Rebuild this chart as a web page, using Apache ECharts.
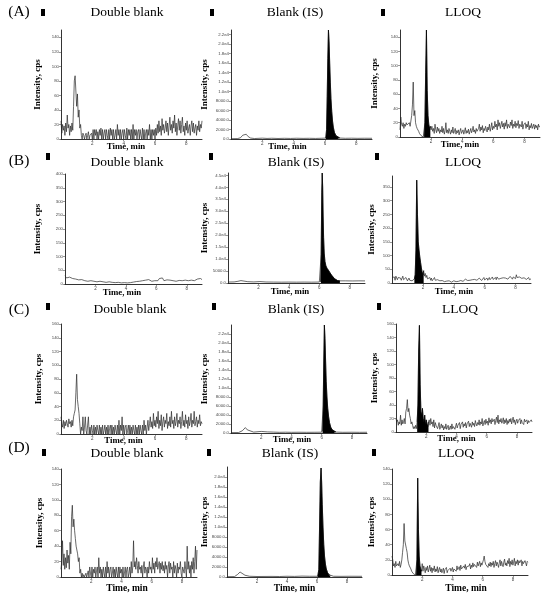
<!DOCTYPE html>
<html><head><meta charset="utf-8">
<script src="https://cdn.jsdelivr.net/npm/echarts@6/dist/echarts.min.js"></script>
<style>html,body{margin:0;padding:0;background:#fff}#c{width:550px;height:599px}</style>
</head><body><div id="c"></div>
<script>
const SERIF = "'Liberation Serif','DejaVu Serif',serif";
const rowLabels = ['(A)', '(B)', '(C)', '(D)'];
const panelTitles = ['Double blank', 'Blank (IS)', 'LLOQ'];
const xAxisName = 'Time, min';
const yAxisName = 'Intensity, cps';
const timeStep = 0.05;   // sampling step (min) of noise traces
const timeStepB = 0.1;   // sampling step (min) of double blank B

// ---------- Double blank traces (cps), one value per sample ----------
const blankA = [25,8,20,12,18,5,22,10,33,15,20,5,18,10,
 22,12,45,80,87,85,45,62,30,40,15,20,
 5,0,8,5,0,5,8,0,5,10,0,5,3,8,0,
 13,0,13,5,13,0,10,0,13,5, 15,0,13,0,8,13,0,13,5,0, 13,0,15,5,13,0,13,0,5,13, 0,20,5,13,0,13,0,8,13,0,
 13,5,0,15,0,13,5,13,0,13, 0,20,0,13,5,13,0,10,13,0, 13,5,0,15,0,13,0,8,13,0, 13,5,20,0,13,0,13,5,13,0,
 15,5,20,8,25,10,18,5,28,12, 20,8,15,25,10,22,5,18,30,12, 20,8,25,15,33,10,22,5,18,28,
 12,25,8,20,30,10,18,5,22,12, 25,8,15,20,5,18,25,10,22,8, 15,20,5,18,12,25,10,20,15,25];
const blankB = [30,22,28,25,32,20,26,18,24,15, 22,16,20,12,18,10,15,12,16,10, 14,8,12,10,14,8,12,6,10,8,
 10,6,9,5,8,6,10,4,8,5, 6,4,8,5,3,7,5,9,6,10, 8,12,10,14,9,16,12,10,15,12, 18,12,20,14,22,12,18,15,20,14,
 16,12,18,10,15,13,20,12,16,14, 18,12,16,14,20,12,15,18,13,20, 16];
const blankC = [25,15,10,20,8,18,12,20,15,10,22,15,18,10,20,12,
 25,30,35,60,87,50,40,30,15,
 0,10,5,25,0,10,25,5,0,13,25,0,10,0,13,5,
 0,13,0,10,0,13,5,0,13,0, 10,0,13,0,5,13,0,10,0,13, 0,8,13,0,13,0,10,0,13,5, 0,13,0,20,0,13,5,25,0,13,
 0,10,13,0,5,13,0,13,0,10, 0,13,5,0,13,0,10,0,13,0, 13,5,0,13,0,20,5,13,0,10,
 20,5,15,25,10,18,8,30,12,20, 10,25,15,33,8,20,12,28,5,18, 25,10,20,15,30,8,18,12,25,10,
 33,15,20,8,25,12,18,30,10,20, 15,25,8,18,33,12,20,10,28,15, 20,8,25,12,18,30,10,20,15,33, 12,18,25,10,20,15,28,12,18,15];
const blankD = [10,20,47,15,30,10,25,12,35,18,28,10,45,30,
 78,93,65,75,60,50,40,35,30,20,25,5,10,
 0,5,0,3,0,0,5,0,0,8,
 0,13,5,0,13,0,10,5,13,0, 8,13,0,25,5,13,0,10,0,13, 5,0,13,0,20,5,13,0,10,13, 0,5,13,0,10,0,13,5,0,13,
 0,13,5,10,0,13,0,5,13,0, 10,13,0,5,13,0,20,5,13,47, 13,20,10,25,15,5,20,10,13,5, 15,0,13,20,5,13,10,0,13,5,
 20,10,13,5,25,10,18,5,20,13, 25,10,15,20,5,18,10,20,8,15, 5,20,10,15,0,13,20,5,18,10, 13,0,20,5,15,10,0,18,5,13,
 10,20,5,0,13,15,5,20,10,0, 40,10,20,5,15,0,20,10,25,5, 20,40,10,35];

// ---------- Blank (IS) traces: [time (min), cps] ----------
const isA = [[0,60],[0.4,80],[0.6,250],[0.75,800],[0.87,1150],[0.97,1000],[1.1,500],[1.25,200],[1.5,100],[2,180],[2.3,120],[2.6,160],[3,110],[3.4,150],[3.8,120],[4.2,160],[4.6,130],[5,150],[5.4,120],[5.8,160],[6.05,200],
 [6.1,2000],[6.14,9000],[6.18,17000],[6.22,23000],[6.26,20500],[6.3,16000],[6.34,12000],[6.38,8500],[6.43,5800],[6.48,3800],[6.53,2500],[6.6,1400],[6.7,700],[6.8,350],[6.95,200],[7.3,150],[7.7,170],[8.1,140],[8.5,160],[9,150]];
const isB = [[0,400],[0.4,450],[0.65,700],[0.85,1000],[1.05,800],[1.3,550],[1.7,450],[2.1,600],[2.5,420],[3,380],[3.5,350],[4,380],[4.5,350],[5,380],[5.5,350],[6,400],[6.08,500],
 [6.12,12000],[6.16,38000],[6.19,46000],[6.22,40000],[6.25,28000],[6.28,19000],[6.32,12500],[6.37,9000],[6.43,7200],[6.5,6200],[6.6,5300],[6.7,4300],[6.8,3300],[6.9,2500],[7.0,1800],[7.1,1300],[7.2,1000],[7.35,900],[7.7,900],[8.2,850],[8.6,900],[9,880]];
const isC = [[0,80],[0.5,100],[0.75,500],[0.95,1200],[1.08,700],[1.2,300],[1.5,200],[2,350],[2.4,250],[2.8,200],[3.2,150],[3.6,180],[4,150],[4.5,170],[5,150],[5.5,160],[6.0,180],[6.06,400],
 [6.1,6000],[6.14,16000],[6.18,24000],[6.22,21000],[6.26,16000],[6.3,11500],[6.35,8000],[6.4,5500],[6.46,3600],[6.52,2300],[6.6,1300],[6.7,700],[6.8,350],[6.95,200],[7.4,150],[8,170],[8.5,150],[9,160]];
const isD = [[0,60],[0.5,80],[0.7,500],[0.87,1000],[1.0,700],[1.2,350],[1.5,150],[2,100],[3,120],[3.5,100],[4,150],[4.5,120],[5,180],[5.5,150],[6.05,150],
 [6.12,1500],[6.17,10000],[6.22,19000],[6.27,21800],[6.31,19000],[6.35,14500],[6.4,10000],[6.45,6500],[6.5,4200],[6.56,2600],[6.62,1600],[6.7,900],[6.8,450],[6.9,250],[7.1,150],[7.6,130],[8.2,150],[9,140]];

// ---------- LLOQ traces (cps), one value per sample ----------
const lloqA = [10,28,18,15,20,12,18,15,20,17,15,
 18,20,15,15,30,45,77,30,37,20,15,
 12,10,8,5,3,2,1,0,0,2,
 20,90,150,65,30,18,12,15,10,
 15,8,12,5,18,10,6,14,8,12, 5,10,7,15,6,12,4,9,20,6, 10,5,12,8,4,10,6,14,5,8,
 12,4,9,6,10,3,8,12,5,7, 10,4,8,13,5,9,6,11,4,8, 12,6,9,15,7,10,5,12,8,6,
 12,18,8,14,10,16,6,12,9,15, 11,7,14,10,18,8,13,20,10,15, 12,22,14,18,10,24,15,20,12,17, 22,14,19,11,20,15,24,12,18,16,
 13,21,16,24,12,18,15,22,13,19, 16,23,12,18,20,14,22,11,17,15, 20,12,18,14,22,10,16,13,19,12, 15,18,11,17,13,16,10,18,14,15];
const lloqB = [20,25,15,22,10,25,18,12,20,15, 22,18,10,15,25,12,18,10,20,15, 8,12,18,10,15,12,8,15,10,
 15,30,120,375,250,150,120,95,75,55,40,30,45,
 25,35,20,28,15,22,12,20,10,18, 8,15,12,20,10,14,8,12,6,10, 8,12,5,9,7,11,5,8,4,7, 3,6,8,4,7,3,6,5,8,
 6,10,5,12,8,6,10,4,9,7, 12,6,10,8,14,7,11,9,13,8, 10,14,8,12,16,9,13,11,15,10, 14,10,18,12,15,9,16,12,20,11,
 15,13,18,10,16,20,12,17,14,22, 13,18,15,20,12,22,16,14,19,12, 17,22,14,19,25,13,18,16,21,14, 20,15,24,17,28,14,22,18,25,16,
 30,20,25,18,22,15,20,17,24,14, 19,15,22,13,18,16,20,12,17,15];
const lloqC = [20,15,18,10,15,12,25,10,18,12,15,20,12,30,
 35,48,30,35,25,20,12,15,
 10,5,8,5,10,5,
 15,40,120,158,70,30,25,35,20,15,25,10,18,12,8,15,
 18,10,20,12,15,8,18,6,14,10, 12,5,9,14,4,8,12,6,10,3, 8,5,12,4,7,10,3,6,9,4, 12,5,8,10,4,9,13,6,10,8, 14,5,11,9,15,7,12,
 9,14,6,12,10,16,8,13,11,7, 15,10,13,8,17,12,9,14,11,18, 10,15,12,20,9,14,17,11,19,13, 16,10,21,14,18,12,20,15,13,19,
 11,17,22,14,25,12,18,15,20,13, 16,21,12,18,14,20,11,17,13,19, 15,20,12,17,22,14,18,11,16,19, 13,17,15,20,12,18,14,16,11,19,
 15,13,18,12,17,14,16,12,18,15];
const lloqD = [25,20,12,15,10,18,12,10,15,12,18,10,14,20,
 30,40,68,45,47,35,30,20,15,12,10,
 8,5,3,2,1,0,0,0,
 20,128,60,25,12,8,5,
 15,5,12,8,3,10,6,12,4,8, 13,5,10,3,9,6,12,4,8,5, 11,3,7,10,4,8,3,6,9,2, 7,5,10,3,6,8,4,9,5,7, 10,
 4,8,6,10,5,12,7,9,11,6, 13,8,10,6,12,9,14,7,11,13, 9,12,15,8,13,10,16,11,14,12, 15,10,17,12,14,18,11,16,13,15,
 20,25,18,14,12,16,10,15,12,17, 11,16,13,18,10,15,19,12,17,14, 10,16,20,12,18,14,11,17,21,13, 16,12,19,15,22,11,18,14,20,13,
 17,22,12,18,15,20,13,19,16,14, 20,12,18,15,13,19,16,12,18,17];

// integrated (black-filled) peak windows, minutes
const fillIS = [[6.05, 7.0], [6.05, 7.4], [6.05, 7.0], [6.05, 7.0]];
const fillLLOQ = [[1.55, 1.95], [1.45, 2.05], [1.4, 2.15], [1.6, 1.95]];

// axis ranges
const yMaxBlank = [150, 400, 160, 140];
const yStepBlank = [20, 50, 20, 20];
const yMaxIS = [23000, 46000, 24000, 22000];
const yStepIS = [2000, 5000, 2000, 2000];
const yMaxLLOQ = [150, 390, 160, 140];
const yStepLLOQ = [20, 50, 20, 20];

// ---------- layout (pixels) ----------
const gridPos = [
  [[61,30,141,109],[231,30,141,109],[400,30,140,107]],
  [[65,174,137,110],[228,173,137,110],[392,176,139,107]],
  [[61,324,141,110],[231,325,136,108],[396,324,136,108]],
  [[61,469,136,108],[227,467,135,110],[392,469,136,106]]
];
const yNameGap = [[18.5,21.5,20.5],[22.5,18.5,15.5],[17.5,21.5,16.5],[16.5,17.5,15.5]];
const xNameShift = [[5.5,14,10],[11.5,6.5,7.5],[8,7,7.5],[2,0,-6]];
const xNameGap = [[3.5,3.5,3.5],[4,4,4],[2.5,2.5,2.5],[7,7,9]];
const rowTitleY = [12, 162, 309, 453];
const rowLabelY = [12, 161, 310, 448];
const titleX = [[127,295,463],[127,296,463],[130,296,460],[127,290,456]];
const markerX = [[41,210,381],[46,209,375],[46,212,377],[42,207,372]];
const markerY = [9, 153, 303, 449];

const blanks = [blankA, blankB, blankC, blankD];
const blankSteps = [timeStep, timeStepB, timeStep, timeStep];
const iss = [isA, isB, isC, isD];
const lloqs = [lloqA, lloqB, lloqC, lloqD];

const toPairs = (vals, step) => vals.map((v, i) => [Math.round(i * step * 1000) / 1000, v]);
const within = (pairs, w) => pairs.filter(p => p[0] >= w[0] - 1e-9 && p[0] <= w[1] + 1e-9);
const isFmt = v => v >= 10000 ? (v / 10000).toFixed(1) + 'e4' : v.toFixed(1);

const grids = [], xAxes = [], yAxes = [], series = [], graphics = [];

for (let r = 0; r < 4; r++) {
  const traces = [toPairs(blanks[r], blankSteps[r]), iss[r], toPairs(lloqs[r], timeStep)];
  const yMax = [yMaxBlank[r], yMaxIS[r], yMaxLLOQ[r]];
  const yStep = [yStepBlank[r], yStepIS[r], yStepLLOQ[r]];
  const fills = [null, fillIS[r], fillLLOQ[r]];
  for (let c = 0; c < 3; c++) {
    const g = r * 3 + c;
    const p = gridPos[r][c];
    grids.push({ left: p[0], top: p[1], width: p[2], height: p[3], containLabel: false });
    const shift = xNameShift[r][c];
    xAxes.push({
      gridIndex: g, type: 'value', min: 0, max: 9, interval: 2,
      axisLine: { show: true, onZero: false, lineStyle: { color: '#000', width: 0.8 } },
      axisTick: { show: true, length: 2, lineStyle: { color: '#333', width: 0.5 } },
      axisLabel: { fontSize: 4.5, color: '#444', margin: 2, showMinLabel: false, showMaxLabel: false, fontFamily: 'Arial, Liberation Sans, sans-serif' },
      splitLine: { show: false },
      name: xAxisName, nameLocation: 'middle', nameGap: xNameGap[r][c], nameMoveOverlap: false,
      nameTextStyle: { fontFamily: SERIF, fontWeight: 'bold', fontSize: r === 3 ? 9.5 : 8.8, color: '#000',
        padding: shift >= 0 ? [0, 2 * shift, 0, 0] : [0, 0, 0, -2 * shift] }
    });
    const showMax = (c === 0 && r !== 0) || (c === 2 && (r === 2 || r === 3));
    yAxes.push({
      gridIndex: g, type: 'value', min: 0, max: yMax[c], interval: yStep[c],
      axisLine: { show: true, lineStyle: { color: '#000', width: 0.8 } },
      axisTick: { show: true, length: 2, lineStyle: { color: '#333', width: 0.5 } },
      axisLabel: { fontSize: 4.3, color: '#444', margin: 2, showMaxLabel: showMax,
        fontFamily: 'Arial, Liberation Sans, sans-serif',
        formatter: c === 1 ? isFmt : (v => String(v)) },
      splitLine: { show: false },
      name: yAxisName, nameLocation: 'middle', nameGap: yNameGap[r][c], nameMoveOverlap: false,
      nameTextStyle: { fontFamily: SERIF, fontWeight: 'bold', fontSize: 9, color: '#000' }
    });
    series.push({
      type: 'line', xAxisIndex: g, yAxisIndex: g, data: traces[c],
      showSymbol: false, symbol: 'none', silent: true, z: 2,
      lineStyle: { color: '#2a2a2a', width: 0.7 }
    });
    if (fills[c]) {
      series.push({
        type: 'line', xAxisIndex: g, yAxisIndex: g, data: within(traces[c], fills[c]),
        showSymbol: false, symbol: 'none', silent: true, z: 3,
        lineStyle: { color: '#000', width: 0.6 },
        areaStyle: { color: '#000', opacity: 1 }
      });
    }
    graphics.push({ type: 'text', silent: true, style: { text: panelTitles[c], x: titleX[r][c], y: rowTitleY[r],
      align: 'center', verticalAlign: 'middle', fontFamily: SERIF, fontSize: 13.5, fill: '#000' } });
    graphics.push({ type: 'rect', silent: true, shape: { x: markerX[r][c], y: markerY[r], width: 4, height: 7 },
      style: { fill: '#000' } });
  }
  graphics.push({ type: 'text', silent: true, style: { text: rowLabels[r], x: 19, y: rowLabelY[r],
    align: 'center', verticalAlign: 'middle', fontFamily: SERIF, fontSize: 15.5, fill: '#000' } });
}

const chart = echarts.init(document.getElementById('c'), null, { renderer: 'canvas' });
chart.setOption({
  backgroundColor: '#fff',
  animation: false,
  grid: grids, xAxis: xAxes, yAxis: yAxes, series: series,
  graphic: { elements: graphics }
});
</script></body></html>
